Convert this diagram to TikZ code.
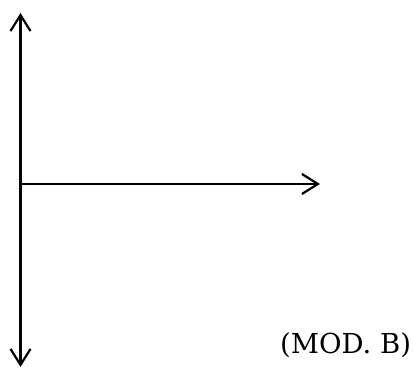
\documentclass[tikz,border=0pt]{standalone}
\usepackage{fontspec}
\newfontfamily\captionfont{DejaVu Serif}
\usetikzlibrary{arrows.meta}
\begin{document}
\begin{tikzpicture}[x=1pt,y=1pt,
  barb/.tip={Straight Barb[length=16pt,width=20pt,line width=2.2pt]},
  axis/.style={line width=2.2pt},
  caption/.style={inner sep=0pt, anchor=base west,
    font=\captionfont\fontsize{27.5}{30}\selectfont}]
  \useasboundingbox (0,0) rectangle (413,369);
  % axis end points
  \coordinate (top) at (20.5,356);
  \coordinate (bottom) at (20.5,2);
  \coordinate (origin) at (20.5,185);
  \coordinate (right) at (320,185);
  % vertical double arrow
  \draw[axis, barb-barb] (bottom) -- (top);
  % horizontal arrow
  \draw[axis, -barb] (origin) -- (right);
  % label
  \node[caption] (label) at (280,15) {(MOD. B)};
\end{tikzpicture}
\end{document}
